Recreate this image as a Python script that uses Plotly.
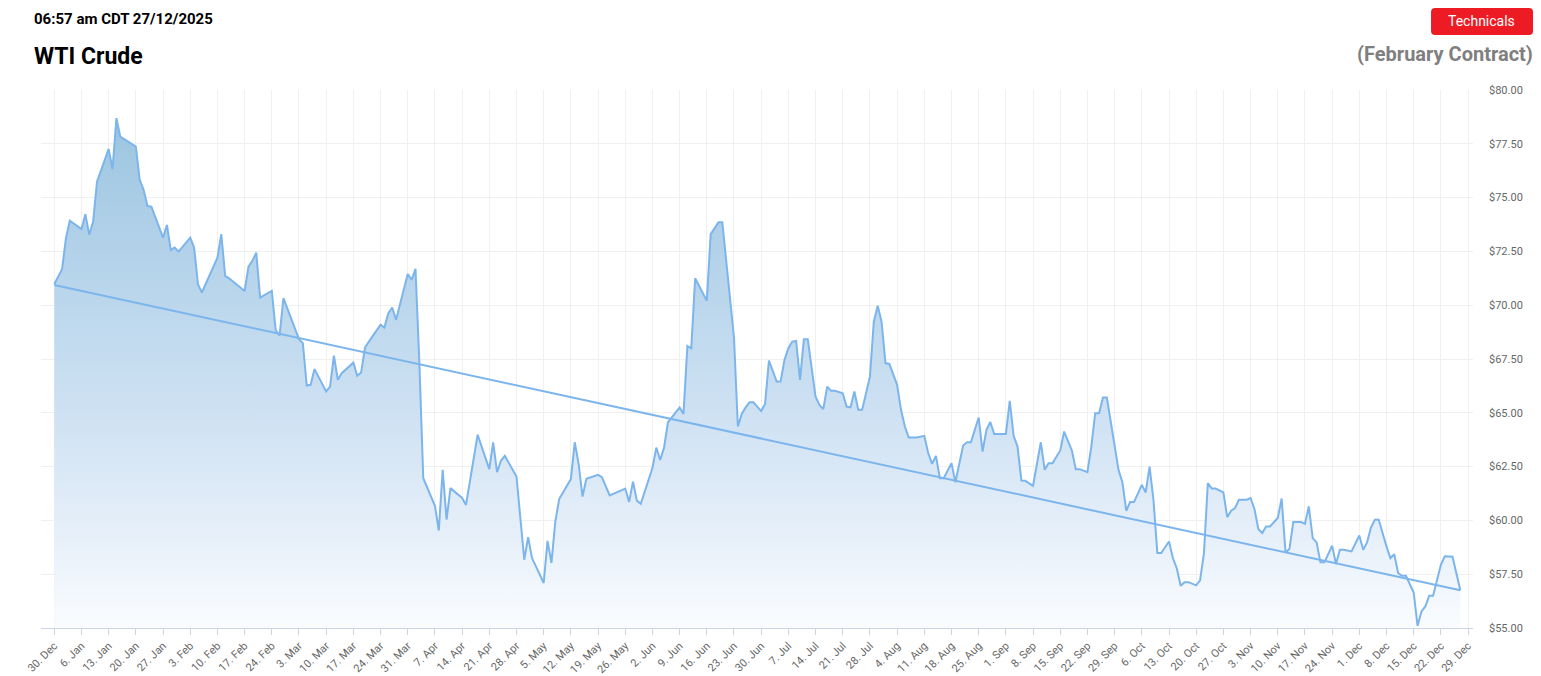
import plotly.graph_objects as go

# WTI Crude (February contract) closing prices
dates = [
    "2024-12-30", "2025-01-01", "2025-01-02", "2025-01-03", "2025-01-06", "2025-01-07",
    "2025-01-08", "2025-01-09", "2025-01-10", "2025-01-13", "2025-01-14", "2025-01-15",
    "2025-01-16", "2025-01-20", "2025-01-21", "2025-01-22", "2025-01-23", "2025-01-24",
    "2025-01-27", "2025-01-28", "2025-01-29", "2025-01-30", "2025-01-31", "2025-02-03",
    "2025-02-04", "2025-02-05", "2025-02-06", "2025-02-10", "2025-02-11", "2025-02-12",
    "2025-02-13", "2025-02-17", "2025-02-18", "2025-02-19", "2025-02-20", "2025-02-21",
    "2025-02-24", "2025-02-25", "2025-02-26", "2025-02-27", "2025-03-03", "2025-03-04",
    "2025-03-05", "2025-03-06", "2025-03-07", "2025-03-10", "2025-03-11", "2025-03-12",
    "2025-03-13", "2025-03-14", "2025-03-17", "2025-03-18", "2025-03-19", "2025-03-20",
    "2025-03-21", "2025-03-24", "2025-03-25", "2025-03-26", "2025-03-27", "2025-03-28",
    "2025-03-31", "2025-04-01", "2025-04-02", "2025-04-03", "2025-04-04", "2025-04-07",
    "2025-04-08", "2025-04-09", "2025-04-10", "2025-04-11", "2025-04-14", "2025-04-15",
    "2025-04-18", "2025-04-21", "2025-04-22", "2025-04-23", "2025-04-24", "2025-04-25",
    "2025-04-28", "2025-04-30", "2025-05-01", "2025-05-02", "2025-05-05", "2025-05-06",
    "2025-05-07", "2025-05-08", "2025-05-09", "2025-05-12", "2025-05-13", "2025-05-14",
    "2025-05-15", "2025-05-16", "2025-05-19", "2025-05-20", "2025-05-21", "2025-05-22",
    "2025-05-26", "2025-05-27", "2025-05-28", "2025-05-29", "2025-05-30", "2025-06-02",
    "2025-06-03", "2025-06-04", "2025-06-05", "2025-06-06", "2025-06-09", "2025-06-10",
    "2025-06-11", "2025-06-12", "2025-06-13", "2025-06-16", "2025-06-17", "2025-06-18",
    "2025-06-19", "2025-06-20", "2025-06-23", "2025-06-24", "2025-06-25", "2025-06-26",
    "2025-06-27", "2025-06-28", "2025-06-30", "2025-07-01", "2025-07-02", "2025-07-04",
    "2025-07-05", "2025-07-06", "2025-07-07", "2025-07-08", "2025-07-09", "2025-07-10",
    "2025-07-11", "2025-07-12", "2025-07-14", "2025-07-15", "2025-07-16", "2025-07-17",
    "2025-07-18", "2025-07-19", "2025-07-21", "2025-07-22", "2025-07-23", "2025-07-24",
    "2025-07-25", "2025-07-26", "2025-07-28", "2025-07-29", "2025-07-30", "2025-07-31",
    "2025-08-01", "2025-08-02", "2025-08-04", "2025-08-05", "2025-08-06", "2025-08-07",
    "2025-08-09", "2025-08-11", "2025-08-12", "2025-08-13", "2025-08-14", "2025-08-15",
    "2025-08-16", "2025-08-18", "2025-08-19", "2025-08-21", "2025-08-22", "2025-08-23",
    "2025-08-25", "2025-08-26", "2025-08-27", "2025-08-28", "2025-08-29", "2025-09-01",
    "2025-09-02", "2025-09-03", "2025-09-04", "2025-09-05", "2025-09-06", "2025-09-08",
    "2025-09-10", "2025-09-11", "2025-09-12", "2025-09-13", "2025-09-15", "2025-09-16",
    "2025-09-18", "2025-09-19", "2025-09-20", "2025-09-22", "2025-09-23", "2025-09-24",
    "2025-09-25", "2025-09-26", "2025-09-27", "2025-09-30", "2025-10-01", "2025-10-02",
    "2025-10-03", "2025-10-04", "2025-10-06", "2025-10-07", "2025-10-08", "2025-10-09",
    "2025-10-10", "2025-10-11", "2025-10-13", "2025-10-14", "2025-10-15", "2025-10-16",
    "2025-10-17", "2025-10-18", "2025-10-20", "2025-10-21", "2025-10-22", "2025-10-23",
    "2025-10-24", "2025-10-25", "2025-10-27", "2025-10-28", "2025-10-29", "2025-10-30",
    "2025-10-31", "2025-11-02", "2025-11-03", "2025-11-04", "2025-11-05", "2025-11-06",
    "2025-11-07", "2025-11-08", "2025-11-10", "2025-11-11", "2025-11-12", "2025-11-13",
    "2025-11-14", "2025-11-16", "2025-11-17", "2025-11-18", "2025-11-19", "2025-11-20",
    "2025-11-21", "2025-11-22", "2025-11-24", "2025-11-25", "2025-11-26", "2025-11-27",
    "2025-11-29", "2025-12-01", "2025-12-02", "2025-12-03", "2025-12-04", "2025-12-05",
    "2025-12-06", "2025-12-08", "2025-12-09", "2025-12-10", "2025-12-11", "2025-12-12",
    "2025-12-13", "2025-12-15", "2025-12-16", "2025-12-17", "2025-12-18", "2025-12-19",
    "2025-12-20", "2025-12-22", "2025-12-23", "2025-12-25", "2025-12-27",
]

prices = [
    70.97, 71.67, 73.11, 73.93, 73.54, 74.23,
    73.27, 73.88, 75.74, 77.26, 76.32, 78.69,
    77.83, 77.37, 75.82, 75.36, 74.61, 74.58,
    73.14, 73.73, 72.57, 72.68, 72.49, 73.14,
    72.68, 70.97, 70.59, 72.21, 73.30, 71.36,
    71.25, 70.66, 71.79, 72.06, 72.44, 70.35,
    70.66, 68.85, 68.59, 70.33, 68.42, 68.23,
    66.27, 66.30, 67.03, 65.99, 66.22, 67.66,
    66.53, 66.84, 67.33, 66.72, 66.87, 68.03,
    68.31, 69.09, 68.96, 69.63, 69.89, 69.32,
    71.45, 71.18, 71.69, 67.31, 61.96, 60.68,
    59.53, 62.35, 60.03, 61.50, 61.04, 60.72,
    63.98, 62.38, 63.63, 62.24, 62.77, 63.00,
    62.04, 58.17, 59.22, 58.25, 57.09, 59.05,
    58.02, 59.95, 60.99, 61.92, 63.63, 62.63,
    61.11, 61.93, 62.12, 62.01, 61.58, 61.16,
    61.48, 60.86, 61.80, 60.92, 60.77, 62.43,
    63.38, 62.81, 63.38, 64.56, 65.25, 64.95,
    68.11, 68.00, 71.25, 70.21, 73.30, 73.55,
    73.85, 73.85, 68.50, 64.36, 64.95, 65.25,
    65.49, 65.49, 65.08, 65.41, 67.43, 66.45,
    66.45, 67.46, 68.00, 68.31, 68.34, 66.53,
    68.42, 68.42, 65.75, 65.37, 65.17, 66.22,
    66.02, 66.02, 65.91, 65.29, 65.25, 65.99,
    65.14, 65.14, 66.68, 69.24, 69.97, 69.24,
    67.31, 67.27, 66.30, 65.14, 64.36, 63.85,
    63.85, 63.93, 63.13, 62.63, 63.00, 61.96,
    61.96, 62.66, 61.77, 63.48, 63.63, 63.63,
    64.78, 63.20, 64.21, 64.57, 64.01, 64.01,
    65.56, 63.93, 63.43, 61.85, 61.84, 61.61,
    63.63, 62.35, 62.66, 62.66, 63.25, 64.13,
    63.25, 62.38, 62.38, 62.24, 63.43, 64.98,
    64.98, 65.71, 65.71, 62.35, 61.77, 60.45,
    60.85, 60.85, 61.65, 61.30, 62.50, 60.96,
    58.48, 58.48, 59.02, 58.25, 57.78, 56.96,
    57.13, 57.13, 56.98, 57.21, 58.48, 61.73,
    61.48, 61.48, 61.30, 60.15, 60.45, 60.57,
    60.96, 60.96, 61.04, 60.53, 59.60, 59.41,
    59.72, 59.72, 60.11, 61.02, 58.51, 58.67,
    59.92, 59.92, 59.84, 60.65, 59.18, 58.98,
    58.05, 58.05, 58.82, 57.97, 58.64, 58.64,
    58.56, 59.30, 58.64, 58.98, 59.67, 60.03,
    60.03, 58.79, 58.25, 58.43, 57.55, 57.43,
    57.43, 56.65, 55.10, 55.77, 56.00, 56.50,
    56.50, 57.94, 58.33, 58.31, 56.75,
]

# Linear trend line end points
trend_dates = ["2024-12-30", "2025-12-27"]
trend_values = [70.94, 56.75]

y_ticks = [55.0, 57.5, 60.0, 62.5, 65.0, 67.5, 70.0, 72.5, 75.0, 77.5, 80.0]
y_labels = ["$%.2f" % v for v in y_ticks]

LINE = "#7cb5ec"
FONT = "Roboto, 'Open Sans', Arial, sans-serif"


def rounded_rect(x0, y0, x1, y1, rx, ry):
    """SVG path of a rounded rectangle in paper coordinates."""
    return (
        f"M {x0 + rx},{y1} L {x1 - rx},{y1} Q {x1},{y1} {x1},{y1 - ry} "
        f"L {x1},{y0 + ry} Q {x1},{y0} {x1 - rx},{y0} "
        f"L {x0 + rx},{y0} Q {x0},{y0} {x0},{y0 + ry} "
        f"L {x0},{y1 - ry} Q {x0},{y1} {x0 + rx},{y1} Z"
    )


fig = go.Figure()

fig.add_trace(go.Scatter(
    x=dates,
    y=prices,
    mode="lines",
    line=dict(color=LINE, width=2),
    fill="tozeroy",
    fillgradient=dict(
        type="vertical",
        start=55,
        stop=80,
        colorscale=[
            [0.0, "rgb(250,252,254)"],
            [0.12, "rgb(236,243,251)"],
            [0.42, "rgb(204,224,242)"],
            [0.8, "rgb(170,205,230)"],
            [1.0, "rgb(150,193,220)"],
        ],
    ),
    hoverinfo="x+y",
    showlegend=False,
))

fig.add_trace(go.Scatter(
    x=trend_dates,
    y=trend_values,
    mode="lines",
    line=dict(color=LINE, width=2),
    hoverinfo="skip",
    showlegend=False,
))

fig.update_layout(
    width=1541,
    height=676,
    margin=dict(l=41, r=68, t=90, b=48),
    paper_bgcolor="white",
    plot_bgcolor="white",
    font=dict(family=FONT, color="#666666", size=11),
    xaxis=dict(
        type="date",
        range=["2024-12-26 13:55", "2025-12-30 06:30"],
        tick0="2024-12-30",
        dtick=7 * 86400000,
        tickformat="%-d. %b",
        tickangle=-45,
        tickfont=dict(size=11, color="#666666"),
        ticks="outside",
        ticklen=6,
        tickcolor="#ccd6eb",
        showline=True,
        linecolor="#ccd6eb",
        linewidth=1,
        showgrid=True,
        gridcolor="#f0f0f0",
        gridwidth=1,
        zeroline=False,
        automargin=False,
    ),
    yaxis=dict(
        side="right",
        range=[55, 80],
        tickvals=y_ticks,
        ticktext=y_labels,
        tickfont=dict(size=11, color="#666666"),
        ticklabelstandoff=15,
        showgrid=True,
        gridcolor="#f0f0f0",
        gridwidth=1,
        zeroline=False,
        showline=False,
        automargin=False,
    ),
    shapes=[
        dict(
            type="path", xref="paper", yref="paper",
            path=rounded_rect(0.9707, 1.1022, 1.0419, 1.1523, 0.0028, 0.0074),
            fillcolor="#ed1c24", line=dict(width=0),
        ),
    ],
    annotations=[
        dict(
            text="<b>06:57 am CDT 27/12/2025</b>",
            xref="paper", yref="paper", x=-0.0063, y=1.1318,
            xanchor="left", yanchor="middle", showarrow=False,
            font=dict(family=FONT, size=15, color="#000000"),
        ),
        dict(
            text="<b>WTI Crude</b>",
            xref="paper", yref="paper", x=-0.0063, y=1.0631,
            xanchor="left", yanchor="middle", showarrow=False,
            font=dict(family=FONT, size=23, color="#000000"),
        ),
        dict(
            text="<b>(February Contract)</b>",
            xref="paper", yref="paper", x=1.0433, y=1.0668,
            xanchor="right", yanchor="middle", showarrow=False,
            font=dict(family=FONT, size=20, color="#7f7f7f"),
        ),
        dict(
            text="Technicals",
            xref="paper", yref="paper", x=1.0056, y=1.1281,
            xanchor="center", yanchor="middle", showarrow=False,
            font=dict(family=FONT, size=14, color="#ffffff"),
        ),
    ],
)

fig.write_html(
    "out.html",
    config={"displayModeBar": False},
    post_script="document.body.style.margin='0';",
)
